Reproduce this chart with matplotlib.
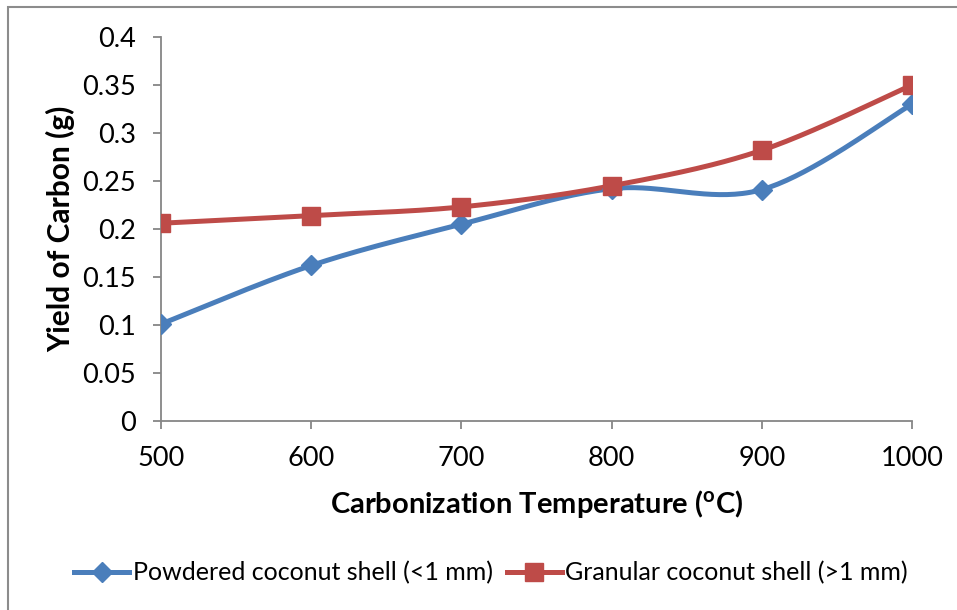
import numpy as np
import matplotlib
matplotlib.use("Agg")
import matplotlib.pyplot as plt
from matplotlib.patches import Rectangle
from matplotlib.lines import Line2D

temperature = [500, 600, 700, 800, 900, 1000]
powdered = [0.101, 0.162, 0.205, 0.242, 0.241, 0.330]
granular = [0.206, 0.214, 0.223, 0.245, 0.282, 0.350]
yticks = [0, 0.05, 0.1, 0.15, 0.2, 0.25, 0.3, 0.35, 0.4]
ytick_labels = ["0", "0.05", "0.1", "0.15", "0.2", "0.25", "0.3", "0.35", "0.4"]
xticks = [500, 600, 700, 800, 900, 1000]

plt.rcParams['font.family'] = ['Lato', 'DejaVu Sans']

def smooth(x, y, n=40):
    x = np.asarray(x, float); y = np.asarray(y, float)
    P = np.column_stack([x, y])
    P = np.vstack([P[0], P, P[-1]])
    out = []
    for i in range(1, len(P) - 2):
        p0, p1, p2, p3 = P[i-1], P[i], P[i+1], P[i+2]
        c1 = p1 + (p2 - p0) / 6.0
        c2 = p2 - (p3 - p1) / 6.0
        t = np.linspace(0, 1, n)[:, None]
        b = ((1-t)**3)*p1 + 3*((1-t)**2)*t*c1 + 3*(1-t)*t**2*c2 + t**3*p2
        out.append(b if i == 1 else b[1:])
    B = np.vstack(out)
    return B[:, 0], B[:, 1]

blue = '#4A7EBB'
red = '#BE4B48'
gray = '#868686'

fig = plt.figure(figsize=(9.57, 6.10), dpi=100)
ax = fig.add_axes([161/957, 1-421/610, (912-161)/957, (421-37)/610])

for data, col, mk, ms in [(powdered, blue, 'D', 10.5), (granular, red, 's', 13)]:
    sx, sy = smooth(temperature, data)
    ax.plot(sx, sy, color=col, lw=3.6, solid_capstyle='round', zorder=3)
    ax.plot(temperature, data, linestyle='none', marker=mk, ms=ms,
            color=col, zorder=4)

ax.set_xlim(500, 1000)
ax.set_ylim(0, 0.4)
ax.set_xticks(xticks)
ax.set_xticklabels([str(v) for v in xticks])
ax.set_yticks(yticks)
ax.set_yticklabels(ytick_labels)
for s in ['top', 'right']:
    ax.spines[s].set_visible(False)
for s in ['left', 'bottom']:
    ax.spines[s].set_color(gray)
    ax.spines[s].set_linewidth(1.3)
ax.tick_params(axis='both', colors=gray, labelcolor='black', labelsize=19.5,
               length=6, width=1.3, direction='out')
ax.tick_params(axis='x', pad=12)
ax.tick_params(axis='y', pad=12)
for lab in ax.get_xticklabels() + ax.get_yticklabels():
    lab.set_clip_on(False)

ax.set_xlabel('Carbonization Temperature ($\\mathregular{^o}$C)', fontsize=21,
              fontweight='bold', labelpad=12)
ax.set_ylabel('Yield of Carbon (g)', fontsize=21.5, fontweight='bold', labelpad=5)

handles = [Line2D([], [], color=blue, lw=3.6, marker='D', ms=10.5),
           Line2D([], [], color=red, lw=3.6, marker='s', ms=13)]
fig.legend(handles, ['Powdered coconut shell (<1 mm)', 'Granular coconut shell (>1 mm)'],
           loc='center', bbox_to_anchor=(491/957, 1-573/610), ncol=2, frameon=False,
           fontsize=18, handlelength=2.2, handletextpad=0.15, columnspacing=0.55)

fig.patches.append(Rectangle((8/957, -0.05), 1.2, (610-7)/610 + 0.05,
                             transform=fig.transFigure, fill=False,
                             edgecolor='#8c8c8c', lw=1.5))

fig.savefig('out.png', dpi=100)
